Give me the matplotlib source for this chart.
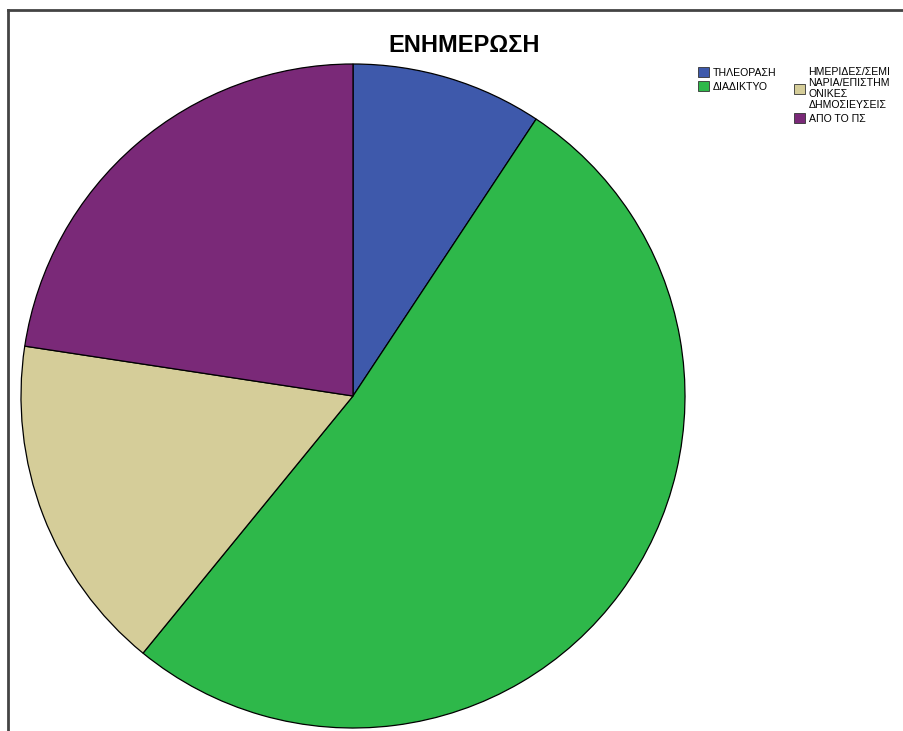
import matplotlib.pyplot as plt
from matplotlib.lines import Line2D

plt.rcParams['font.family'] = ['Liberation Sans', 'DejaVu Sans']

labels = ['ΤΗΛΕΟΡΑΣΗ', 'ΔΙΑΔΙΚΤΥΟ',
          'ΗΜΕΡΙΔΕΣ/ΣΕΜΙ\nΝΑΡΙΑ/ΕΠΙΣΤΗΜ\nΟΝΙΚΕΣ\nΔΗΜΟΣΙΕΥΣΕΙΣ',
          'ΑΠΟ ΤΟ ΠΣ']
values = [9.3, 51.6, 16.5, 22.6]
colors = ['#3e59ab', '#2eb84a', '#d5cd99', '#7a2978']

fig = plt.figure(figsize=(9.04, 7.31), dpi=100)

# pie centred at ~(353, 396) px with a radius of ~333 px
cx, cy, r = 353 / 904, 1 - 396 / 731, 333
ax = fig.add_axes([cx - r / 904, cy - r / 731, 2 * r / 904, 2 * r / 731])
wedges, _ = ax.pie(values, colors=colors, startangle=90, counterclock=False,
                   radius=1, wedgeprops=dict(edgecolor='black', linewidth=0.9))
ax.set_xlim(-1.003, 1.003)
ax.set_ylim(-1.003, 1.003)
ax.set_aspect('auto')

fig.text(464 / 904, 1 - 45 / 731, 'ΕΝΗΜΕΡΩΣΗ', ha='center', va='center',
         fontsize=17, fontweight='bold')

# legend in two top-aligned columns
leg_kw = dict(loc='upper left', frameon=False, fontsize=7.6, handlelength=1.0,
              handleheight=1.0, handletextpad=0.35, labelspacing=0.35, borderpad=0)
leg1 = fig.legend(wedges[:2], labels[:2], bbox_to_anchor=(693 / 904, 1 - 62 / 731), **leg_kw)
leg2 = fig.legend(wedges[2:], labels[2:], bbox_to_anchor=(789 / 904, 1 - 62 / 731), **leg_kw)
for leg in (leg1, leg2):
    for t in leg.get_texts():
        t.set_linespacing(1.1)
    for h in leg.legend_handles:
        h.set_edgecolor('#333333')
        h.set_linewidth(0.6)

# frame lines along the top and left edges
fig.add_artist(Line2D([8 / 904, 1], [1 - 10 / 731] * 2, color='#444444', lw=2))
fig.add_artist(Line2D([8 / 904] * 2, [0, 1 - 10 / 731], color='#444444', lw=2))

fig.savefig('out.png', dpi=100)
